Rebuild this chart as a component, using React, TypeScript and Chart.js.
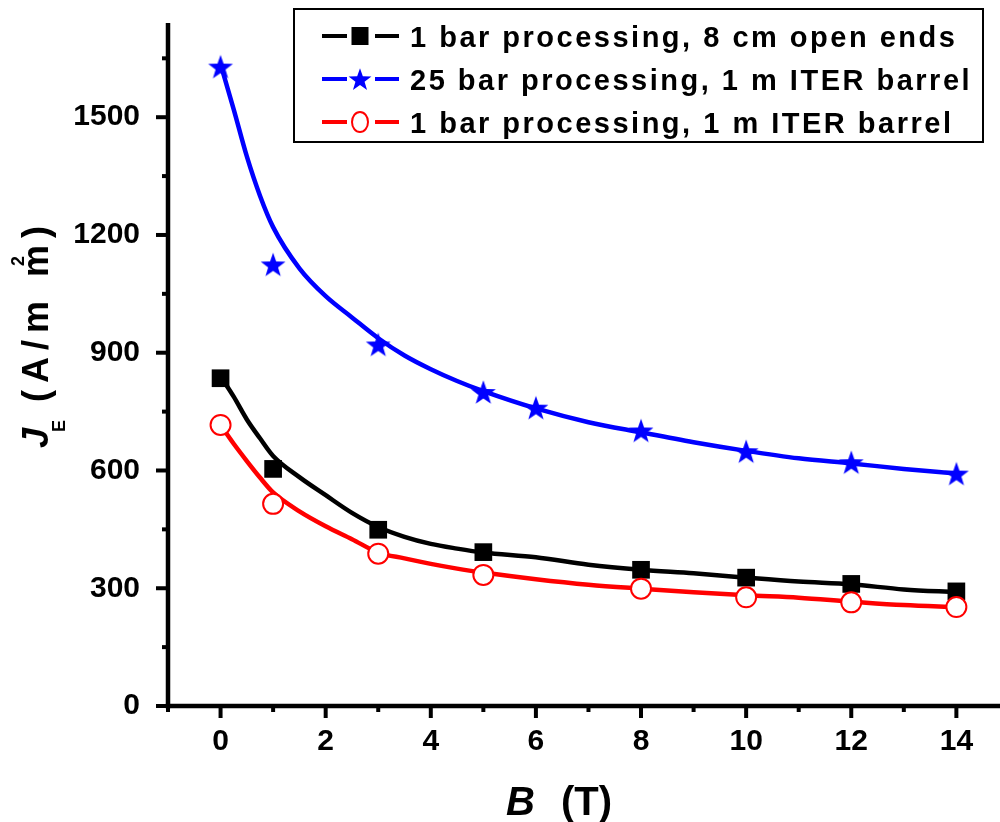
import React, { useEffect, useRef } from 'react';
import { Chart, registerables } from 'chart.js';

Chart.register(...registerables);

const FAM = '"Liberation Sans", Arial, sans-serif';

const seriesLabels = [
  '1 bar processing, 8 cm open ends',
  '25 bar processing, 1 m ITER barrel',
  '1 bar processing, 1 m ITER barrel',
];

// measured points (markers)
const blackB = [0, 1, 3, 5, 8, 10, 12, 14];
const blackJ = [835, 604, 449, 392, 347, 327, 311, 292];
const blueB = [0, 1, 3, 5, 6, 8, 10, 12, 14];
const blueJ = [1629, 1125, 921, 800, 760, 702, 649, 621, 592];
const redB = [0, 1, 3, 5, 8, 10, 12, 14];
const redJ = [716, 515, 388, 334, 299, 277, 264, 252];

// fitted curves
const fitB = [0, 0.25, 0.5, 0.75, 1, 1.5, 2, 2.5, 3, 3.5, 4, 4.5, 5, 6, 7, 8, 9, 10, 11, 12, 13, 14];
const fitBlack = [840, 788, 730, 682, 637, 583, 537, 492, 456, 431, 413, 401, 391, 379, 360, 347, 338, 327, 317, 310, 297, 290];
const fitBlue = [1635, 1520, 1400, 1300, 1220, 1115, 1044, 990, 937, 893, 858, 828, 802, 758, 723, 697, 672, 650, 631, 618, 604, 592];
const fitRed = [716, 668, 624, 582, 544, 496, 458, 425, 391, 376, 362, 350, 340, 323, 309, 299, 290, 282, 276, 266, 257, 252];

const xMajor = [0, 2, 4, 6, 8, 10, 12, 14];
const xMinor = [-1, 1, 3, 5, 7, 9, 11, 13];
const yMajor = [0, 300, 600, 900, 1200, 1500];
const yMinor = [150, 450, 750, 1050, 1350, 1650];

const pts = (xs: number[], ys: number[]) => xs.map((x, i) => ({ x, y: ys[i] }));

function makeStar(outer: number, inner: number, color: string) {
  const size = Math.ceil(outer * 2 + 2);
  const c = document.createElement('canvas');
  c.width = size;
  c.height = size;
  const g = c.getContext('2d')!;
  g.fillStyle = color;
  g.beginPath();
  const cx = size / 2;
  const cy = size / 2 + outer * 0.1;
  for (let i = 0; i < 10; i++) {
    const r = i % 2 === 0 ? outer : inner;
    const a = -Math.PI / 2 + (i * Math.PI) / 5;
    const px = cx + r * Math.cos(a);
    const py = cy + r * Math.sin(a);
    if (i === 0) g.moveTo(px, py);
    else g.lineTo(px, py);
  }
  g.closePath();
  g.fill();
  return c;
}

export default function App() {
  const ref = useRef<HTMLCanvasElement>(null);

  useEffect(() => {
    document.body.style.margin = '0';
    document.body.style.overflow = 'hidden';
    const canvas = ref.current!;
    const star = makeStar(13, 5.2, '#0000ff');
    const legendStar = makeStar(12, 4.8, '#0000ff');

    const decor = {
      id: 'decor',
      beforeDraw(chart: any) {
        const ctx = chart.ctx;
        ctx.save();
        ctx.fillStyle = '#fff';
        ctx.fillRect(0, 0, chart.width, chart.height);
        ctx.restore();
      },
      afterDraw(chart: any) {
        const ctx = chart.ctx as CanvasRenderingContext2D;
        const xs = chart.scales.x;
        const ys = chart.scales.y;
        const { left, right, top, bottom } = chart.chartArea;
        ctx.save();
        ctx.strokeStyle = '#000';
        ctx.lineCap = 'butt';
        // axis lines
        ctx.lineWidth = 4.5;
        ctx.beginPath();
        ctx.moveTo(left, top);
        ctx.lineTo(left, bottom + 2.25);
        ctx.stroke();
        ctx.beginPath();
        ctx.moveTo(left - 2.25, bottom);
        ctx.lineTo(right, bottom);
        ctx.stroke();
        // ticks
        ctx.lineWidth = 4;
        xMajor.forEach((v) => {
          const p = xs.getPixelForValue(v);
          ctx.beginPath();
          ctx.moveTo(p, bottom);
          ctx.lineTo(p, bottom + 12);
          ctx.stroke();
        });
        xMinor.forEach((v) => {
          const p = xs.getPixelForValue(v);
          ctx.beginPath();
          ctx.moveTo(p, bottom);
          ctx.lineTo(p, bottom + 6);
          ctx.stroke();
        });
        yMajor.forEach((v) => {
          const p = ys.getPixelForValue(v);
          ctx.beginPath();
          ctx.moveTo(left, p);
          ctx.lineTo(left - 12, p);
          ctx.stroke();
        });
        yMinor.forEach((v) => {
          const p = ys.getPixelForValue(v);
          ctx.beginPath();
          ctx.moveTo(left, p);
          ctx.lineTo(left - 6, p);
          ctx.stroke();
        });

        // x title
        ctx.fillStyle = '#000';
        ctx.textBaseline = 'alphabetic';
        ctx.textAlign = 'left';
        ctx.font = `italic bold 40px ${FAM}`;
        ctx.fillText('B', 506, 815);
        ctx.font = `bold 40px ${FAM}`;
        ctx.fillText('(T)', 561, 815);

        // y title (rotated)
        ctx.save();
        ctx.translate(48, 448);
        ctx.rotate(-Math.PI / 2);
        ctx.font = `italic bold 36px ${FAM}`;
        ctx.fillText('J', 0, 0);
        ctx.font = `bold 18px ${FAM}`;
        ctx.fillText('E', 16, 17);
        ctx.font = `bold 36px ${FAM}`;
        (ctx as any).letterSpacing = '7px';
        const main = '(A/m m';
        ctx.fillText(main, 46, 0);
        const w = ctx.measureText(main).width;
        (ctx as any).letterSpacing = '0px';
        const mW = ctx.measureText('m').width;
        ctx.fillText(')', 46 + w, 0);
        ctx.font = `bold 18px ${FAM}`;
        const tW = ctx.measureText('2').width;
        ctx.fillText('2', 46 + w - 7 - mW / 2 - tW / 2, -24);
        ctx.restore();

        // legend
        const bx = 294, by = 9, bw = 689, bh = 133;
        ctx.lineWidth = 2;
        ctx.strokeStyle = '#000';
        ctx.strokeRect(bx, by, bw, bh);
        const baselines = [47, 90, 133];
        const colors = ['#000000', '#0000ff', '#ff0000'];
        baselines.forEach((bl, i) => {
          const cy = bl - 11;
          const mx = 360;
          ctx.strokeStyle = colors[i];
          ctx.lineWidth = 4;
          ctx.beginPath();
          ctx.moveTo(322, cy);
          ctx.lineTo(347, cy);
          ctx.moveTo(375, cy);
          ctx.lineTo(399, cy);
          ctx.stroke();
          if (i === 0) {
            ctx.fillStyle = '#000';
            ctx.fillRect(mx - 8.5, cy - 9, 17, 18);
          } else if (i === 1) {
            ctx.drawImage(legendStar, mx - legendStar.width / 2, cy - legendStar.height / 2);
          } else {
            ctx.fillStyle = '#fff';
            ctx.strokeStyle = '#ff0000';
            ctx.lineWidth = 2;
            ctx.beginPath();
            ctx.ellipse(mx, cy, 8, 10, 0, 0, Math.PI * 2);
            ctx.fill();
            ctx.stroke();
          }
          ctx.fillStyle = '#000';
          ctx.font = `bold 29px ${FAM}`;
          (ctx as any).letterSpacing = '2.5px';
          ctx.fillText(seriesLabels[i], 410, bl);
          (ctx as any).letterSpacing = '0px';
        });
        ctx.restore();
      },
    };

    const lineDs = (data: any, color: string, order: number) => ({
      type: 'scatter' as const,
      data,
      showLine: true,
      borderColor: color,
      backgroundColor: color,
      borderWidth: 4.5,
      pointRadius: 0,
      cubicInterpolationMode: 'monotone' as const,
      order,
    });

    const zeroPad = (s: any) => {
      s.paddingLeft = 0;
      s.paddingRight = 0;
      s.paddingTop = 0;
      s.paddingBottom = 0;
    };

    const chart = new Chart(canvas, {
      type: 'scatter',
      data: {
        datasets: [
          lineDs(pts(fitB, fitBlack), '#000000', 6),
          lineDs(pts(fitB, fitBlue), '#0000ff', 5),
          lineDs(pts(fitB, fitRed), '#ff0000', 4),
          {
            label: seriesLabels[0],
            data: pts(blackB, blackJ),
            pointStyle: 'rect',
            pointRadius: 12.5,
            pointBackgroundColor: '#000',
            pointBorderColor: '#000',
            pointBorderWidth: 0,
            showLine: false,
            order: 3,
          },
          {
            label: seriesLabels[1],
            data: pts(blueB, blueJ),
            pointStyle: star as any,
            pointRadius: 12,
            showLine: false,
            order: 2,
          },
          {
            label: seriesLabels[2],
            data: pts(redB, redJ),
            pointStyle: 'circle',
            pointRadius: 10,
            pointBackgroundColor: '#fff',
            pointBorderColor: '#ff0000',
            pointBorderWidth: 2,
            showLine: false,
            order: 1,
          },
        ] as any,
      },
      options: {
        animation: false,
        responsive: false,
        devicePixelRatio: 1,
        layout: { autoPadding: false, padding: { top: 23, right: 0, left: 0, bottom: 0 } },
        plugins: { legend: { display: false }, tooltip: { enabled: false } },
        scales: {
          x: {
            type: 'linear',
            min: -1,
            max: 14.83,
            afterBuildTicks: (s: any) => {
              s.ticks = xMajor.map((v) => ({ value: v }));
            },
            afterFit: (s: any) => {
              s.height = 116;
              zeroPad(s);
            },
            grid: { drawOnChartArea: false, color: 'rgba(0,0,0,0)', tickLength: 12 },
            border: { display: false },
            ticks: {
              color: '#000',
              font: { family: FAM, size: 30, weight: 'bold' },
              padding: 6,
              maxRotation: 0,
              autoSkip: false,
              callback: (v: any) => String(v),
            },
          },
          y: {
            type: 'linear',
            min: 0,
            max: 1740,
            afterBuildTicks: (s: any) => {
              s.ticks = yMajor.map((v) => ({ value: v }));
            },
            afterFit: (s: any) => {
              s.width = 168;
              zeroPad(s);
            },
            grid: { drawOnChartArea: false, color: 'rgba(0,0,0,0)', tickLength: 12 },
            border: { display: false },
            ticks: {
              color: '#000',
              font: { family: FAM, size: 30, weight: 'bold' },
              padding: 16,
              autoSkip: false,
              callback: (v: any) => String(v),
            },
          },
        },
      } as any,
      plugins: [decor],
    });
    return () => chart.destroy();
  }, []);

  return (
    <div style={{ width: 1000, height: 822 }}>
      <canvas ref={ref} width={1000} height={822} style={{ display: 'block' }} />
    </div>
  );
}
